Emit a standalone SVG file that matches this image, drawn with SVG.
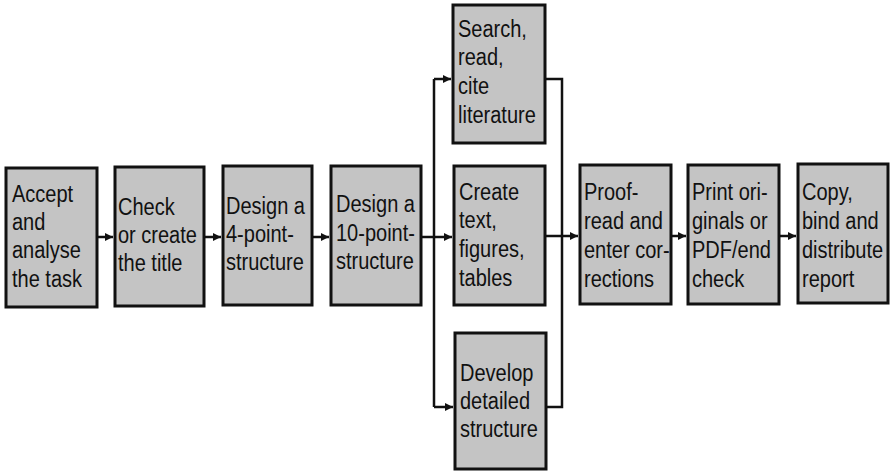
<svg xmlns="http://www.w3.org/2000/svg" width="892" height="471" viewBox="0 0 892 471">
<defs>
<marker id="ah" markerUnits="userSpaceOnUse" markerWidth="9" markerHeight="9" refX="8" refY="4" orient="auto">
<path d="M0,0 L8,4 L0,8 Z" fill="#111"/>
</marker>
<style>
.box{fill:#c4c4c4;stroke:#111;stroke-width:3}
.t{font-family:"Liberation Sans",Arial,sans-serif;font-size:23px;fill:#111}
.c{fill:none;stroke:#111;stroke-width:2.5}
.a{marker-end:url(#ah)}
</style>
</defs>
<rect width="892" height="471" fill="#fff"/>
<g id="connectors">
<path class="c a" d="M97,237 H113"/>
<path class="c a" d="M204,237 H221"/>
<path class="c a" d="M312,237 H329"/>
<path class="c a" d="M421,237 H452"/>
<path class="c" d="M434,79 V407"/>
<path class="c a" d="M434,79 H451"/>
<path class="c a" d="M434,407 H453"/>
<path class="c" d="M545,79 H562 V407 H546"/>
<path class="c a" d="M545,236 H578"/>
<path class="c a" d="M671,236 H686"/>
<path class="c a" d="M779,236 H796"/>
</g>
<g id="n1">
<rect class="box" x="6" y="168" width="91" height="139"/>
<text class="t" transform="translate(12,0) scale(0.87,1)"><tspan x="0" y="202">Accept</tspan><tspan x="0" y="230">and</tspan><tspan x="0" y="258">analyse</tspan><tspan x="0" y="287">the task</tspan></text>
</g>
<g id="n2">
<rect class="box" x="115" y="167" width="89" height="139"/>
<text class="t" transform="translate(118,0) scale(0.87,1)"><tspan x="0" y="215">Check</tspan><tspan x="0" y="243">or create</tspan><tspan x="0" y="271">the title</tspan></text>
</g>
<g id="n3">
<rect class="box" x="223" y="166" width="89" height="139"/>
<text class="t" transform="translate(226,0) scale(0.87,1)"><tspan x="0" y="214">Design a</tspan><tspan x="0" y="242">4-point-</tspan><tspan x="0" y="270">structure</tspan></text>
</g>
<g id="n4">
<rect class="box" x="331" y="166" width="90" height="139"/>
<text class="t" transform="translate(336,0) scale(0.87,1)"><tspan x="0" y="212">Design a</tspan><tspan x="0" y="241">10-point-</tspan><tspan x="0" y="269">structure</tspan></text>
</g>
<g id="n5">
<rect class="box" x="453" y="5" width="92" height="138"/>
<text class="t" transform="translate(458,0) scale(0.87,1)"><tspan x="0" y="37">Search,</tspan><tspan x="0" y="65">read,</tspan><tspan x="0" y="94">cite</tspan><tspan x="0" y="123">literature</tspan></text>
</g>
<g id="n6">
<rect class="box" x="454" y="166" width="91" height="139"/>
<text class="t" transform="translate(459,0) scale(0.87,1)"><tspan x="0" y="200">Create</tspan><tspan x="0" y="228">text,</tspan><tspan x="0" y="257">figures,</tspan><tspan x="0" y="286">tables</tspan></text>
</g>
<g id="n7">
<rect class="box" x="455" y="333" width="91" height="136"/>
<text class="t" transform="translate(460,0) scale(0.87,1)"><tspan x="0" y="381">Develop</tspan><tspan x="0" y="409">detailed</tspan><tspan x="0" y="437">structure</tspan></text>
</g>
<g id="n8">
<rect class="box" x="580" y="165" width="91" height="139"/>
<text class="t" transform="translate(584,0) scale(0.87,1)"><tspan x="0" y="200">Proof-</tspan><tspan x="0" y="229">read and</tspan><tspan x="0" y="258">enter cor-</tspan><tspan x="0" y="287">rections</tspan></text>
</g>
<g id="n9">
<rect class="box" x="688" y="165" width="91" height="139"/>
<text class="t" transform="translate(692,0) scale(0.87,1)"><tspan x="0" y="200">Print ori-</tspan><tspan x="0" y="229">ginals or</tspan><tspan x="0" y="258">PDF/end</tspan><tspan x="0" y="287">check</tspan></text>
</g>
<g id="n10">
<rect class="box" x="798" y="164" width="90" height="139"/>
<text class="t" transform="translate(802,0) scale(0.87,1)"><tspan x="0" y="200">Copy,</tspan><tspan x="0" y="229">bind and</tspan><tspan x="0" y="258">distribute</tspan><tspan x="0" y="287">report</tspan></text>
</g>
</svg>
